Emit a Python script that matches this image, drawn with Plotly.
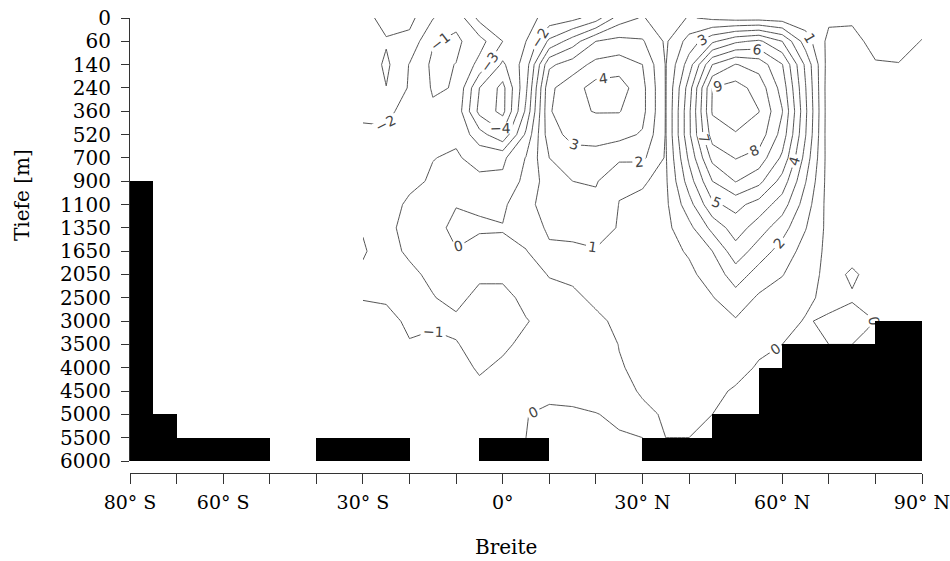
import numpy as np
import plotly.graph_objects as go

# Model depth levels (m) – plotted on an index axis with equal spacing
depth_levels = [0, 60, 140, 240, 360, 520, 700, 900, 1100, 1350, 1650,
                2050, 2500, 3000, 3500, 4000, 4500, 5000, 5500, 6000]

# Latitudes of the streamfunction grid (deg, negative = south)
lats = list(range(-30, 95, 5))

# Meridional overturning streamfunction (Sv), one list per latitude,
# values from the surface (0 m) down to 6000 m
psi_by_lat = [
    [-2.6, -2.8, -2.2, -2.15, -2.05, -1.95, -1.8, -1.7, -1.75, -1.9, -2.15, -1.75, -1.05, -0.6, -0.5, -0.4, -0.3, -0.15, 0, 0],      # 30S
    [-3.4, -2.9, -3.2, -2.98, -2.15, -1.9, -1.7, -1.5, -1.35, -1.15, -1.3, -1.3, -1.1, -0.75, -0.5, -0.4, -0.3, -0.15, 0, 0],       # 25S
    [-3.3, -2.7, -1.95, -1.89, -1.75, -1.6, -1.4, -1.2, -0.85, -0.8, -0.85, -1.2, -1.2, -1.15, -0.95, -0.7, -0.5, -0.3, -0.1, -0.02],  # 20S
    [-2.05, -1.08, -0.8, -0.9, -1.15, -1.2, -1.02, -0.9, -0.7, -0.4, -0.5, -0.8, -1.05, -1.1, -0.85, -0.7, -0.5, -0.3, -0.15, -0.02],  # 15S
    [-1.3, -0.8, -1.02, -1.05, -1.3, -1.15, -0.9, -0.6, -0.05, 0.3, -0.05, -0.4, -0.7, -1.2, -0.95, -0.7, -0.5, -0.3, -0.15, -0.02],    # 10S
    [-3.3, -1.6, -2.3, -4.0, -4.3, -2.6, -1.3, -0.8, -0.1, 0.1, -0.3, -0.8, -1.3, -1.4, -1.3, -1.1, -0.8, -0.5, -0.1, -0.02],          # 5S
    [-3.6, -3.0, -4.2, -5.3, -5.3, -3.8, -1.2, -0.8, -0.2, 0.05, -0.2, -0.8, -1.3, -1.4, -1.15, -0.85, -0.55, -0.3, -0.05, -0.02],     # 0
    [-3.4, -3.0, -2.5, -2.2, -1.8, -0.8, 0.05, 0.3, 0.8, 0.5, -0.05, -0.4, -0.75, -1.05, -0.8, -0.6, -0.4, -0.02, 0, 0],              # 5N
    [-2.6, -0.8, 1.8, 2.8, 2.9, 2.6, 2.0, 1.5, 1.3, 1.15, 0.85, 0.05, -0.3, -0.7, -0.6, -0.4, -0.2, 0.15, 0.01, 0.02],               # 10N
    [-2.3, 0.5, 2.5, 3.6, 3.8, 3.3, 2.6, 2.0, 1.6, 1.3, 0.8, 0.2, -0.2, -0.5, -0.6, -0.5, -0.2, 0.1, 0.02, 0.02],                    # 15N
    [-1.5, 2.0, 3.3, 4.4, 4.05, 3.4, 2.6, 2.1, 1.7, 1.3, 0.95, 0.5, 0.2, -0.2, -0.4, -0.4, -0.25, 0.02, 0.05, 0.02],                 # 20N
    [0.5, 2.3, 3.5, 4.5, 4.05, 3.3, 2.2, 1.1, 0.98, 0.95, 0.7, 0.5, 0.35, 0.2, 0.02, -0.05, -0.15, -0.1, 0.05, 0.02],                # 25N
    [1.1, 2.1, 3.0, 3.3, 3.3, 2.9, 2.2, 1.05, 0.9, 0.75, 0.65, 0.55, 0.45, 0.4, 0.3, 0.15, 0.05, -0.1, 0, 0],                        # 30N
    [0.3, 0.85, 0.95, 0.95, 0.95, 0.95, 0.9, 0.85, 0.8, 0.75, 0.7, 0.6, 0.5, 0.45, 0.35, 0.25, 0.15, 0.05, 0, 0],                    # 35N
    [1.1, 2.4, 3.5, 4.5, 4.8, 4.8, 4.2, 3.5, 2.6, 1.7, 1.1, 0.8, 0.6, 0.4, 0.25, 0.15, 0.1, 0.05, 0, 0],                             # 40N
    [0.8, 3.8, 7.0, 9.02, 9.1, 8.5, 7.3, 6.0, 4.8, 3.3, 2.0, 1.4, 0.95, 0.6, 0.4, 0.25, 0.1, 0, 0, 0],                              # 45N
    [0.6, 4.8, 8.05, 9.4, 9.7, 8.9, 8.05, 7.05, 5.3, 4.5, 3.6, 2.5, 1.6, 0.9, 0.5, 0.15, -0.05, 0, 0, 0],                           # 50N
    [0.6, 5.2, 7.6, 8.6, 9.02, 8.6, 7.6, 6.3, 4.6, 3.5, 2.5, 1.6, 0.85, 0.45, 0.1, -0.05, 0, 0, 0, 0],                              # 55N
    [0.5, 4.0, 6.05, 6.6, 7.05, 6.6, 5.8, 4.6, 3.5, 2.4, 1.6, 1.05, 0.5, 0.25, 0, 0, 0, 0, 0, 0],                                   # 60N
    [0.4, 1.5, 2.8, 3.05, 3.2, 3.05, 2.6, 2.05, 1.5, 1.05, 0.6, 0.3, 0.15, -0.05, 0, 0, 0, 0, 0, 0],                                # 65N
    [0.2, -0.3, -0.5, -0.6, -0.6, -0.6, -0.5, -0.45, -0.4, -0.3, -0.25, -0.2, -0.2, 0.1, 0, 0, 0, 0, 0, 0],                         # 70N
    [0.1, -0.2, -0.3, -0.3, -0.3, -0.3, -0.3, -0.3, -0.25, -0.2, -0.2, 0.08, -0.05, 0.2, 0, 0, 0, 0, 0, 0],                         # 75N
    [0.3, 0.2, -0.05, -0.2, -0.25, -0.25, -0.25, -0.25, -0.2, -0.2, -0.2, -0.2, -0.1, 0, 0, 0, 0, 0, 0, 0],                         # 80N
    [0.3, 0.2, -0.02, -0.15, -0.2, -0.2, -0.2, -0.2, -0.2, -0.2, -0.15, -0.15, -0.1, 0, 0, 0, 0, 0, 0, 0],                          # 85N
    [0.2, -0.02, -0.1, -0.1, -0.1, -0.1, -0.1, -0.1, -0.1, -0.1, -0.1, -0.1, -0.05, 0, 0, 0, 0, 0, 0, 0],                           # 90N
]

# Ocean floor: latitude bands (start, end) and the depth level where land begins
bathy_start = [-80, -75, -70, -40, -5, 30, 45, 55, 60, 80]
bathy_end = [-75, -70, -50, -20, 10, 45, 55, 60, 80, 90]
bathy_top = [900, 5000, 5500, 5500, 5500, 5500, 5000, 4000, 3500, 3000]

# Latitude axis ticks
lat_ticks = list(range(-80, 91, 10))
lat_labels = {-80: "80° S", -60: "60° S", -30: "30° S", 0: "0°",
              30: "30° N", 60: "60° N", 90: "90° N"}

serif = "DejaVu Serif"
n_lev = len(depth_levels)
bottom_idx = n_lev - 1

z = np.array(psi_by_lat).T  # rows = depth level, columns = latitude

fig = go.Figure()

fig.add_trace(go.Contour(
    x=lats,
    y=list(range(n_lev)),
    z=z,
    contours=dict(start=-5, end=10, size=1, coloring="none",
                  showlabels=True,
                  labelfont=dict(family="DejaVu Sans", size=14, color="#444")),
    line=dict(color="#555555", width=1, smoothing=0),
    showscale=False,
    hoverinfo="skip",
))

tops = [depth_levels.index(d) for d in bathy_top]
fig.add_trace(go.Bar(
    x=[(a + b) / 2 for a, b in zip(bathy_start, bathy_end)],
    width=[b - a for a, b in zip(bathy_start, bathy_end)],
    base=tops,
    y=[bottom_idx - t for t in tops],
    marker=dict(color="black", line=dict(width=0)),
    showlegend=False,
    hoverinfo="skip",
))

fig.update_layout(
    template="none",
    width=950, height=561,
    margin=dict(l=130, r=28, t=18, b=88, autoexpand=False),
    paper_bgcolor="white", plot_bgcolor="white",
    showlegend=False,
    bargap=0,
    font=dict(family=serif, size=20, color="black"),
    xaxis=dict(
        range=[-80, 90.001],
        tickvals=lat_ticks,
        ticktext=[lat_labels.get(t, "") for t in lat_ticks],
        ticks="outside", ticklen=10, tickwidth=1, tickcolor="#333",
        showline=True, linecolor="#333", linewidth=1,
        showgrid=False, zeroline=False, automargin=False,
        anchor="free", position=0,
        ticklabelstandoff=2, ticklabeloverflow="allow",
        tickfont=dict(family=serif, size=19, color="black"),
    ),
    yaxis=dict(
        domain=[12 / 455, 1],
        range=[bottom_idx, 0],
        tickvals=list(range(n_lev)),
        ticktext=[str(d) for d in depth_levels],
        ticks="outside", ticklen=8, tickwidth=1, tickcolor="#333",
        showline=True, linecolor="#333", linewidth=1,
        showgrid=False, zeroline=False, automargin=False,
        ticklabelstandoff=6, ticklabeloverflow="allow",
        tickfont=dict(family=serif, size=20, color="black"),
    ),
    annotations=[
        dict(text="Breite", xref="paper", yref="paper",
             x=(506 - 130) / 792, y=(473 - 547) / 455,
             xanchor="center", yanchor="middle",
             showarrow=False, font=dict(family=serif, size=20, color="black")),
        dict(text="Tiefe [m]", xref="paper", yref="paper",
             x=(22 - 130) / 792, y=(473 - 195) / 455, textangle=-90,
             xanchor="center", yanchor="middle",
             showarrow=False, font=dict(family=serif, size=20, color="black")),
    ],
)

fig.write_html("out.html")
